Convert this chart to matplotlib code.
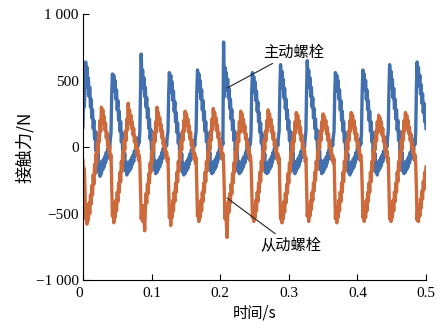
import numpy as np
import matplotlib.pyplot as plt

plt.rcParams['font.family'] = ['Liberation Serif', 'Noto Sans CJK SC']
plt.rcParams['axes.unicode_minus'] = True

# contact force, one sample every 1 ms from 0 to 0.5 s
# (one row per load cycle)
t_start, t_end = 0.0, 0.5

driving = [
    150, 380, 300,
    420, 640, 490, 600, 450, 520, 380, 450, 300, 360, 220, 280, 140, 200, 60, 120, -30, 40, -110, -40, -190, -110, -220, -140, -200, -110, -170, -90, -150, -70, -120, -40, -90, -10, -50, 30, -10, 60, 110,
    400, 550, 450, 540, 420, 500, 360, 430, 280, 350, 200, 270, 120, 190, 40, 110, -40, 30, -120, -50, -180, -110, -210, -130, -190, -120, -180, -100, -160, -80, -130, -60, -110, -30, -70, 0, -40, 40, 0, 70, 30, 120,
    450, 700, 480, 580, 440, 520, 380, 450, 300, 370, 220, 290, 140, 210, 60, 130, -20, 50, -100, -30, -170, -100, -200, -120, -190, -110, -170, -90, -150, -70, -120, -40, -90, -10, -60, 20, -20, 50, 10, 80, 120,
    400, 560, 460, 540, 410, 490, 350, 420, 270, 340, 190, 260, 110, 180, 30, 100, -50, 20, -120, -50, -190, -120, -210, -140, -200, -120, -180, -100, -160, -80, -130, -50, -100, -20, -60, 10, -30, 50, 10, 80, 120,
    420, 580, 470, 550, 420, 500, 360, 430, 280, 350, 200, 270, 120, 190, 40, 110, -40, 30, -110, -40, -180, -110, -200, -120, -190, -110, -170, -90, -150, -70, -120, -40, -90, -10, -50, 30, -10, 60, 20, 790,
    380, 600, 480, 560, 430, 510, 370, 440, 290, 360, 210, 280, 130, 200, 50, 120, -30, 40, -110, -40, -180, -110, -200, -130, -190, -110, -170, -90, -150, -70, -120, -40, -90, -10, -50, 30, -10, 60, 20, 110,
    410, 560, 450, 530, 410, 490, 350, 420, 270, 340, 190, 260, 110, 180, 30, 100, -50, 20, -120, -50, -190, -120, -200, -130, -190, -110, -170, -90, -150, -70, -120, -40, -90, -10, -50, 20, -20, 50, 10, 80, 120,
    430, 620, 480, 570, 440, 510, 370, 440, 290, 360, 210, 280, 130, 200, 50, 120, -30, 40, -110, -40, -180, -110, -200, -120, -180, -100, -160, -80, -140, -60, -110, -30, -80, 0, -40, 40, 0, 70, 120,
    440, 650, 490, 580, 450, 520, 380, 450, 300, 370, 220, 290, 140, 210, 60, 130, -20, 50, -100, -30, -170, -100, -200, -120, -190, -110, -170, -90, -150, -70, -120, -40, -90, -10, -60, 20, -20, 50, 10, 80, 120,
    400, 560, 460, 540, 420, 500, 360, 430, 280, 350, 200, 270, 120, 190, 40, 110, -40, 30, -120, -50, -190, -120, -210, -130, -190, -110, -170, -90, -150, -70, -120, -40, -90, -10, -50, 30, -10, 60, 20, 110,
    420, 580, 470, 550, 430, 500, 360, 430, 280, 350, 200, 270, 120, 190, 40, 110, -40, 30, -120, -50, -190, -120, -210, -130, -180, -100, -160, -80, -140, -60, -110, -30, -80, 0, -40, 40, 0, 70, 120,
    430, 620, 480, 570, 440, 510, 370, 440, 290, 360, 210, 280, 130, 200, 50, 120, -30, 40, -110, -40, -180, -110, -200, -130, -190, -110, -170, -90, -150, -70, -120, -40, -90, -10, -50, 30, -10, 60, 20, 110,
    440, 640, 490, 600, 460, 540, 400, 470, 330, 400, 260, 330, 190, 250, 140,
]

driven = [
    -100, -220, -160,
    -320, -540, -450, -580, -470, -550, -420, -500, -360, -430, -290, -360, -210, -280, -130, -200, -50, -120, 30, -40, 110, 40, 200, 120, 300, 200, 280, 180, 230, 130, 180, 70, 110, 10, 50, -40, 0, -90, -60,
    -300, -520, -430, -570, -450, -530, -400, -480, -340, -410, -270, -340, -190, -260, -110, -180, -30, -100, 50, -20, 120, 50, 210, 130, 330, 200, 280, 180, 240, 140, 190, 90, 140, 40, 80, -10, 30, -60, -20, -100, -60, -120,
    -320, -540, -460, -560, -440, -520, -630, -470, -350, -420, -280, -350, -200, -270, -120, -190, -40, -110, 40, -30, 110, 40, 190, 110, 300, 190, 260, 170, 220, 120, 170, 70, 120, 20, 60, -30, 10, -80, -40, -110, -80,
    -310, -530, -440, -590, -450, -530, -400, -480, -340, -410, -270, -340, -190, -260, -110, -180, -30, -100, 50, -20, 120, 50, 200, 120, 270, 180, 250, 160, 210, 110, 160, 60, 110, 10, 50, -40, 0, -90, -50, -120, -80,
    -300, -520, -440, -560, -450, -530, -400, -480, -340, -410, -270, -340, -190, -260, -110, -180, -30, -100, 50, -20, 120, 50, 210, 130, 290, 190, 260, 170, 220, 120, 170, 70, 110, 10, 50, -40, 0, -90, -50, -120,
    -320, -540, -450, -570, -680, -520, -410, -490, -350, -420, -280, -350, -200, -270, -120, -190, -40, -110, 40, -30, 110, 40, 190, 110, 270, 180, 250, 160, 210, 110, 160, 60, 100, 0, 40, -50, -10, -100, -60, -120,
    -300, -530, -440, -560, -450, -530, -400, -480, -340, -410, -270, -340, -190, -260, -110, -180, -30, -100, 50, -20, 120, 50, 200, 120, 280, 180, 250, 160, 210, 110, 160, 60, 110, 10, 50, -40, 0, -90, -50, -120, -80,
    -310, -540, -450, -570, -460, -540, -410, -490, -350, -420, -280, -350, -200, -270, -120, -190, -40, -110, 40, -30, 110, 40, 190, 110, 260, 170, 240, 150, 200, 100, 150, 50, 90, -10, 30, -60, -20, -110, -80,
    -300, -520, -440, -560, -450, -520, -400, -470, -340, -400, -270, -330, -190, -250, -110, -170, -30, -90, 50, -10, 120, 50, 190, 120, 250, 170, 230, 150, 200, 100, 150, 50, 100, 0, 40, -50, -10, -100, -60, -120, -90,
    -310, -540, -450, -570, -450, -530, -400, -480, -340, -410, -270, -340, -190, -260, -110, -180, -30, -100, 50, -20, 120, 50, 200, 120, 260, 170, 240, 150, 200, 100, 150, 50, 100, 0, 40, -50, -10, -100, -60, -120,
    -300, -530, -440, -560, -450, -530, -400, -480, -340, -410, -270, -340, -190, -260, -110, -180, -30, -100, 50, -20, 120, 50, 190, 110, 240, 160, 220, 140, 190, 90, 140, 40, 80, -20, 20, -70, -30, -110, -80,
    -310, -540, -450, -560, -450, -530, -400, -480, -340, -410, -270, -340, -190, -260, -110, -180, -30, -100, 50, -20, 120, 50, 200, 120, 260, 170, 240, 150, 200, 100, 150, 50, 100, 0, 40, -50, -10, -100, -60, -120,
    -310, -550, -450, -560, -440, -520, -390, -460, -330, -390, -260, -320, -190, -240, -150,
]

x_ticks = [0, 0.1, 0.2, 0.3, 0.4, 0.5]
x_labels = ['0', '0.1', '0.2', '0.3', '0.4', '0.5']
y_ticks = [-1000, -500, 0, 500, 1000]
y_labels = ['\u22121 000', '\u2212500', '0', '500', '1 000']

t = np.linspace(t_start, t_end, len(driving))

fig = plt.figure(figsize=(4.41, 3.29), dpi=100)
ax = fig.add_axes([0.188, 0.149, 0.778, 0.808])

ax.plot(t, driving, color='#426fae', linewidth=2.4)
ax.plot(t, driven, color='#cc6a3c', linewidth=2.4)

ax.set_xlim(0, 0.5)
ax.set_ylim(-1000, 1000)
ax.set_xticks(x_ticks)
ax.set_xticklabels(x_labels)
ax.set_yticks(y_ticks)
ax.set_yticklabels(y_labels)
ax.get_xticklabels()[0].set_horizontalalignment('right')

ax.spines['top'].set_visible(False)
ax.spines['right'].set_visible(False)
ax.tick_params(direction='in', length=4, width=0.8, labelsize=11)
ax.tick_params(axis='x', pad=5)
ax.tick_params(axis='y', pad=3)

cjk = ['Noto Sans CJK SC', 'Liberation Serif']
ax.set_xlabel('时间/s', family=cjk, fontsize=11, labelpad=3)
ax.set_ylabel('接触力/N', family=cjk, fontsize=12.5, labelpad=1)

# callouts
ax.annotate('主动螺栓', xy=(0.21, 444), xytext=(0.2624, 714),
            family=cjk, fontsize=11, va='center', ha='left',
            arrowprops=dict(arrowstyle='-', color='#222222', lw=0.8,
                            shrinkA=0, shrinkB=0))
ax.annotate('从动螺栓', xy=(0.21, -383), xytext=(0.258, -737),
            family=cjk, fontsize=11, va='center', ha='left',
            arrowprops=dict(arrowstyle='-', color='#222222', lw=0.8,
                            shrinkA=0, shrinkB=0))

fig.savefig('out.png', dpi=100)
